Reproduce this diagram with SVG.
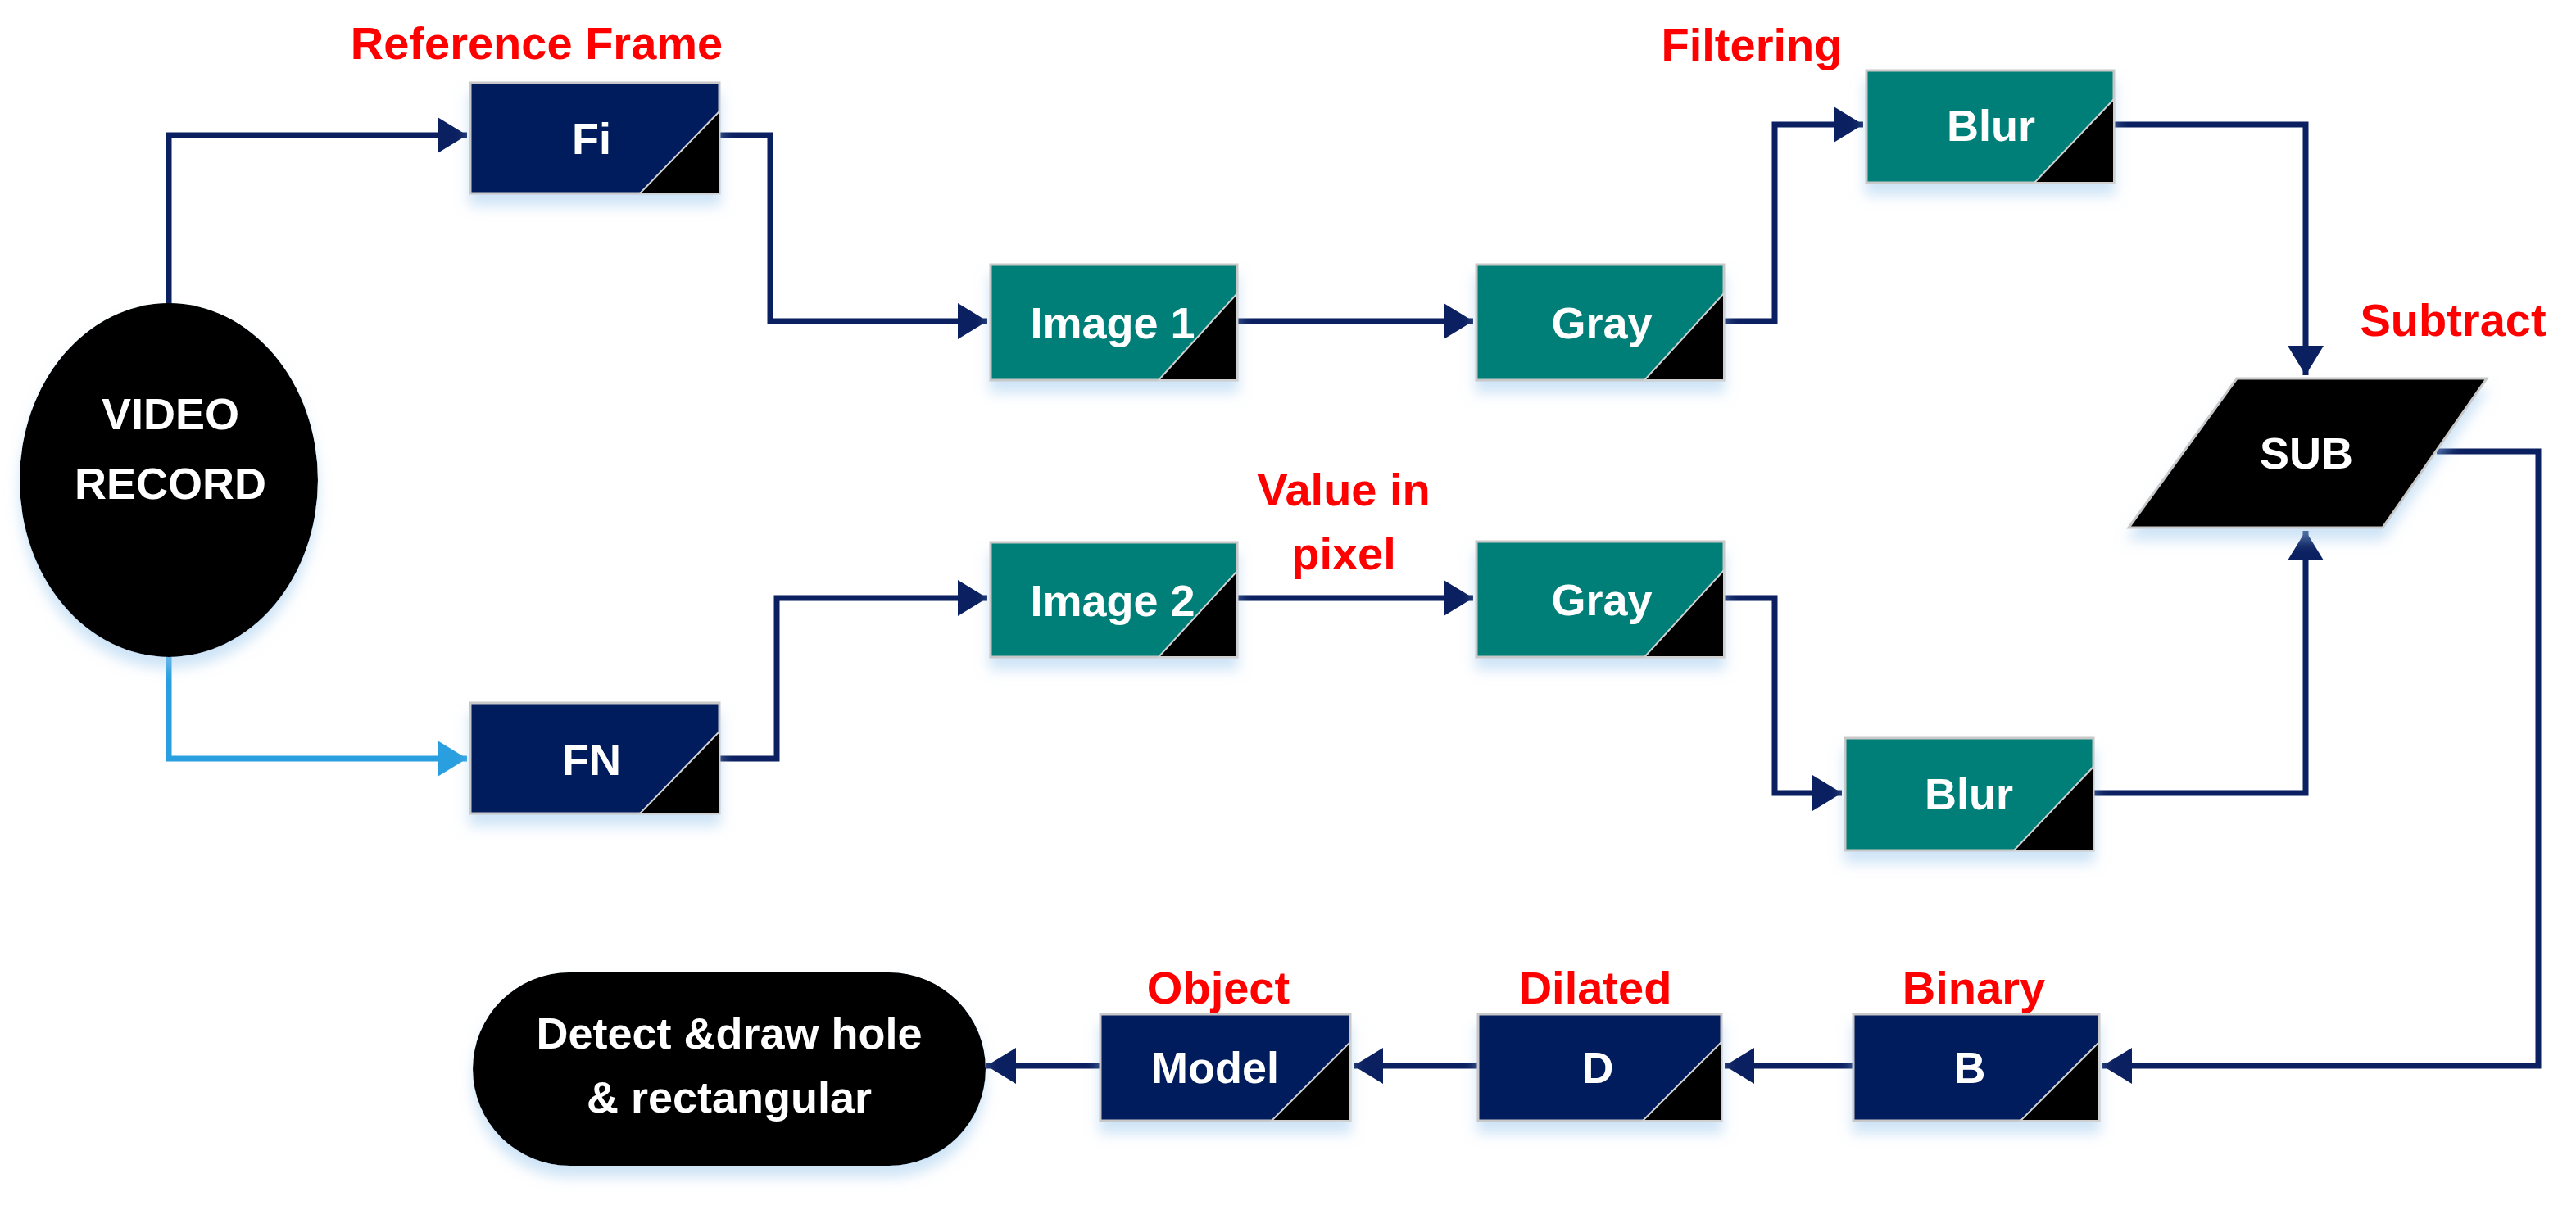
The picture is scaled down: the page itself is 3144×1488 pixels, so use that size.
<svg xmlns="http://www.w3.org/2000/svg" width="3144" height="1488" viewBox="0 0 3144 1488">
<style>
.nv{fill:#021a5c;stroke:#c8c8c8;stroke-width:3}
.tl{fill:#007f78;stroke:#c8c8c8;stroke-width:3}
.blk{fill:#000}
.cut{fill:#000;stroke:#d0d0d0;stroke-width:2}
.bt{font-family:"Liberation Sans",Arial,sans-serif;font-weight:bold;font-size:54px;fill:#fff;text-anchor:middle}
.lb{font-family:"Liberation Sans",Arial,sans-serif;font-weight:bold;font-size:56px;fill:#ff0000;text-anchor:middle}
.ln{fill:none;stroke:#0b2060;stroke-width:7}
.lbl{fill:none;stroke:#2a9fe0;stroke-width:7}
</style>
<defs>
<marker id="a" markerUnits="userSpaceOnUse" markerWidth="40" markerHeight="44" refX="36" refY="22" orient="auto"><path d="M0,0 L36,22 L0,44 Z" fill="#0b2060"/></marker>
<marker id="b" markerUnits="userSpaceOnUse" markerWidth="40" markerHeight="44" refX="36" refY="22" orient="auto"><path d="M0,0 L36,22 L0,44 Z" fill="#2a9fe0"/></marker>
<filter id="sh" x="-10%" y="-10%" width="120%" height="140%"><feDropShadow dx="0" dy="14" stdDeviation="8" flood-color="#9cc8ee" flood-opacity="0.5"/></filter>
</defs>
<g id="connectors">
<path class="ln" d="M206,372 V165 H570" marker-end="url(#a)"/>
<path class="lbl" d="M206,800 V926 H570" marker-end="url(#b)"/>
<path class="ln" d="M878,165 H940 V392 H1205" marker-end="url(#a)"/>
<path class="ln" d="M878,926 H948 V730 H1205" marker-end="url(#a)"/>
<path class="ln" d="M1510,392 H1798" marker-end="url(#a)"/>
<path class="ln" d="M1510,730 H1798" marker-end="url(#a)"/>
<path class="ln" d="M2104,392 H2166 V152 H2274" marker-end="url(#a)"/>
<path class="ln" d="M2104,730 H2166 V968 H2248" marker-end="url(#a)"/>
<path class="ln" d="M2580,152 H2814 V458" marker-end="url(#a)"/>
<path class="ln" d="M2555,968 H2814 V648" marker-end="url(#a)"/>
<path class="ln" d="M2974,551 H3098 V1301 H2566" marker-end="url(#a)"/>
<path class="ln" d="M2262,1301 H2105" marker-end="url(#a)"/>
<path class="ln" d="M1804,1301 H1652" marker-end="url(#a)"/>
<path class="ln" d="M1343,1301 H1204" marker-end="url(#a)"/>
</g>
<g id="video">
<ellipse cx="206" cy="586" rx="182" ry="216" class="blk" filter="url(#sh)"/>
<text class="bt" x="208" y="524" font-size="58">VIDEO</text>
<text class="bt" x="208" y="609" font-size="58">RECORD</text>
</g>
<g id="fi"><rect class="nv" x="574" y="101" width="304" height="135" filter="url(#sh)"/><path class="cut" d="M878,136 V236 H781 Z"/><text class="bt" x="722" y="188">Fi</text></g>
<g id="fn"><rect class="nv" x="574" y="858" width="304" height="135" filter="url(#sh)"/><path class="cut" d="M878,893 V993 H781 Z"/><text class="bt" x="722" y="946">FN</text></g>
<g id="img1"><rect class="tl" x="1209" y="323" width="301" height="141" filter="url(#sh)"/><path class="cut" d="M1510,358 V464 H1414 Z"/><text class="bt" x="1358" y="413">Image 1</text></g>
<g id="img2"><rect class="tl" x="1209" y="662" width="301" height="140" filter="url(#sh)"/><path class="cut" d="M1510,697 V802 H1414 Z"/><text class="bt" x="1358" y="752">Image 2</text></g>
<g id="gray1"><rect class="tl" x="1802" y="323" width="302" height="141" filter="url(#sh)"/><path class="cut" d="M2104,358 V464 H2007 Z"/><text class="bt" x="1955" y="413">Gray</text></g>
<g id="gray2"><rect class="tl" x="1802" y="661" width="302" height="141" filter="url(#sh)"/><path class="cut" d="M2104,696 V802 H2007 Z"/><text class="bt" x="1955" y="751">Gray</text></g>
<g id="blur1"><rect class="tl" x="2278" y="86" width="302" height="137" filter="url(#sh)"/><path class="cut" d="M2580,121 V223 H2483 Z"/><text class="bt" x="2430" y="172">Blur</text></g>
<g id="blur2"><rect class="tl" x="2252" y="901" width="303" height="137" filter="url(#sh)"/><path class="cut" d="M2555,936 V1038 H2458 Z"/><text class="bt" x="2403" y="988">Blur</text></g>
<g id="sub"><path d="M2730,462 H3035 L2908,644 H2598 Z" fill="#000" stroke="#c8c8c8" stroke-width="3" filter="url(#sh)"/><text class="bt" x="2815" y="572">SUB</text></g>
<g id="b"><rect class="nv" x="2262" y="1238" width="300" height="130" filter="url(#sh)"/><path class="cut" d="M2562,1272 V1368 H2466 Z"/><text class="bt" x="2404" y="1322">B</text></g>
<g id="d"><rect class="nv" x="1804" y="1238" width="297" height="130" filter="url(#sh)"/><path class="cut" d="M2101,1272 V1368 H2005 Z"/><text class="bt" x="1950" y="1322">D</text></g>
<g id="model"><rect class="nv" x="1343" y="1238" width="305" height="130" filter="url(#sh)"/><path class="cut" d="M1648,1272 V1368 H1552 Z"/><text class="bt" x="1483" y="1322">Model</text></g>
<g id="detect"><rect x="577" y="1187" width="626" height="236" rx="118" ry="118" class="blk" filter="url(#sh)"/>
<text class="bt" x="890" y="1280">Detect &amp;draw hole</text>
<text class="bt" x="890" y="1358">&amp; rectangular</text></g>
<g id="labels">
<text class="lb" x="655" y="72">Reference Frame</text>
<text class="lb" x="2138" y="74">Filtering</text>
<text class="lb" x="2994" y="410">Subtract</text>
<text class="lb" x="1640" y="617">Value in</text>
<text class="lb" x="1640" y="695">pixel</text>
<text class="lb" x="1487" y="1225">Object</text>
<text class="lb" x="1947" y="1225">Dilated</text>
<text class="lb" x="2409" y="1225">Binary</text>
</g>
</svg>
